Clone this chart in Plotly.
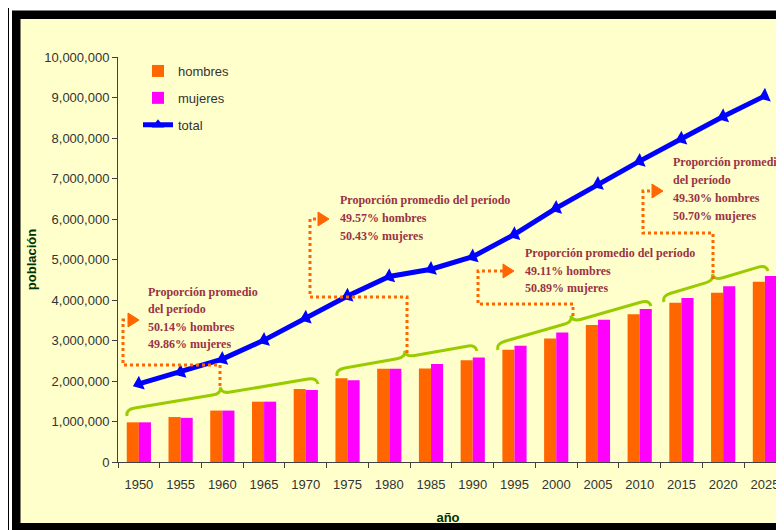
import math
import plotly.graph_objects as go

# ---------------- data ----------------
years = [1950, 1955, 1960, 1965, 1970, 1975, 1980, 1985, 1990, 1995,
         2000, 2005, 2010, 2015, 2020, 2025]
hombres = [980000, 1110000, 1270000, 1490000, 1800000, 2070000, 2300000, 2310000,
           2510000, 2770000, 3050000, 3380000, 3650000, 3930000, 4180000, 4450000]
mujeres = [980000, 1090000, 1270000, 1490000, 1780000, 2020000, 2300000, 2420000,
           2580000, 2870000, 3200000, 3510000, 3780000, 4050000, 4340000, 4590000]
total = [1930000, 2220000, 2540000, 3010000, 3560000, 4100000, 4580000, 4760000,
         5070000, 5620000, 6270000, 6860000, 7430000, 7980000, 8530000, 9040000]
series_names = ["hombres", "mujeres", "total"]
period_notes = [
    ["Proporción promedio", "del período", "50.14% hombres", "49.86% mujeres"],
    ["Proporción promedio del período", "49.57% hombres", "50.43% mujeres"],
    ["Proporción promedio del período", "49.11% hombres", "50.89% mujeres"],
    ["Proporción promedio", "del período", "49.30% hombres", "50.70% mujeres"],
]

# ---------------- geometry (screen pixels; page has an 8px body margin) ----------------
OFF = 8
W, H = 784 - OFF, 530 - OFF
PL, PT, PR, PB = 118, 57, 778, 462          # plot area in screen pixels
ML, MT = PL - OFF, PT - OFF
MR, MB = (W + OFF) - PR, (H + OFF) - PB
PW, PH = PR - PL, PB - PT
X0, XPX = 1947.5, 8.347
X1 = X0 + PW / XPX
YMAX = 10_000_000

def X(px):
    return X0 + (px - PL) / XPX

def Y(py):
    return (PB - py) / PH * YMAX

def PX(px):
    return (px - PL) / PW

def PY(py):
    return 1 - (py - PT) / PH

ORANGE = "#FF6600"
MAGENTA = "#FF00FF"
BLUE = "#0000FF"
YELLOW = "#FFFFCC"
GREEN = "#99CC00"
TEXTRED = "#993344"
AXC = "#333333"

fig = go.Figure()
fig.add_trace(go.Bar(x=years, y=hombres, name=series_names[0], marker_color=ORANGE,
                     marker_line_width=0, legendgroup="a"))
fig.add_trace(go.Bar(x=years, y=mujeres, name=series_names[1], marker_color=MAGENTA,
                     marker_line_width=0, legendgroup="b"))
fig.add_trace(go.Scatter(x=years, y=total, name=series_names[2], mode="lines+markers",
                         line=dict(color=BLUE, width=5),
                         marker=dict(symbol="triangle-up", size=13, color=BLUE, angle=-113),
                         showlegend=False, legendgroup="c"))
# legend proxy for total (upright triangle as in the original legend)
fig.add_trace(go.Scatter(x=[None], y=[None], name=series_names[2], mode="lines+markers",
                         line=dict(color=BLUE, width=5),
                         marker=dict(symbol="triangle-up", size=11, color=BLUE),
                         legendgroup="c"))

shapes = []
# frame
shapes.append(dict(type="rect", xref="paper", yref="paper", layer="below",
                   x0=PX(8), y0=PY(7), x1=PX(820), y1=PY(560),
                   line=dict(color="black", width=2), fillcolor="rgba(0,0,0,0)"))
shapes.append(dict(type="rect", xref="paper", yref="paper", layer="below",
                   x0=PX(12), y0=PY(10.5), x1=PX(820), y1=PY(560),
                   line=dict(width=0), fillcolor="black"))
shapes.append(dict(type="rect", xref="paper", yref="paper", layer="below",
                   x0=PX(20.5), y0=PY(19), x1=PX(778), y1=PY(523),
                   line=dict(width=0), fillcolor=YELLOW))

# curly braces (pixel endpoints, converted to data coords)
def brace(L, R, h=13, q=9):
    lx, ly = L
    rx, ry = R
    dx, dy = rx - lx, ry - ly
    ln = math.hypot(dx, dy)
    ux, uy = dx / ln, dy / ln
    nx, ny = uy, -ux
    if ny > 0:
        nx, ny = -nx, -ny

    def P(t, s):
        px = lx + ux * t + nx * s
        py = ly + uy * t + ny * s
        return f"{X(px):.4f},{Y(py):.1f}"
    m = ln / 2
    d = (f"M{P(0,0)} Q{P(0,h/2)} {P(q,h/2)} L{P(m-q,h/2)} Q{P(m,h/2)} {P(m,h)} "
         f"Q{P(m,h/2)} {P(m+q,h/2)} L{P(ln-q,h/2)} Q{P(ln,h/2)} {P(ln,0)}")
    return dict(type="path", xref="x", yref="y", path=d,
                line=dict(color=GREEN, width=3), layer="above")

for L, R in [((127, 416), (318, 384)), ((337, 376), (477, 351)),
             ((498, 350), (651, 306)), ((664, 302), (768, 271))]:
    shapes.append(brace(L, R))

# dotted elbow connectors with arrow heads
connectors = [
    [(220, 386), (220, 365), (123, 365), (123, 320), (128, 320)],
    [(407, 353), (407, 297), (310, 297), (310, 219), (318, 219)],
    [(573, 316), (573, 304), (478, 304), (478, 271), (503, 271)],
    [(713, 279), (713, 233), (643, 233), (643, 191), (652, 191)],
]
for pts in connectors:
    d = "M" + " L".join(f"{X(a):.4f},{Y(b):.1f}" for a, b in pts)
    shapes.append(dict(type="path", xref="x", yref="y", path=d,
                       line=dict(color=ORANGE, width=3, dash="dot"), layer="above"))
    ax, ay = pts[-1]
    tri = (f"M{X(ax):.4f},{Y(ay-7):.1f} L{X(ax+11):.4f},{Y(ay):.1f} "
           f"L{X(ax):.4f},{Y(ay+7):.1f} Z")
    shapes.append(dict(type="path", xref="x", yref="y", path=tri,
                       fillcolor=ORANGE, line=dict(color=ORANGE, width=1), layer="above"))

# annotation text blocks (left px, first-line centre px, line spacing px)
note_pos = [(146, 292, 17.4), (338, 200, 18), (523, 253, 17.5), (671, 162, 18)]
annotations = []
for lines, (lx, cy, sp) in zip(period_notes, note_pos):
    for i, t in enumerate(lines):
        annotations.append(dict(x=X(lx), y=Y(cy + i * sp), xref="x", yref="y",
                                text=t, showarrow=False, xanchor="left", yanchor="middle",
                                font=dict(family="Liberation Serif", size=12,
                                          color=TEXTRED, weight="bold")))

fig.update_layout(
    width=W, height=H,
    margin=dict(l=ML, r=MR, t=MT, b=MB, autoexpand=False),
    paper_bgcolor="white", plot_bgcolor="rgba(0,0,0,0)",
    barmode="group", bargap=0.42, bargroupgap=0,
    font=dict(family="Liberation Sans", size=13, color=AXC),
    shapes=shapes, annotations=annotations,
    legend=dict(x=PX(138), y=PY(56), xanchor="left", yanchor="top",
                bgcolor="rgba(0,0,0,0)", traceorder="grouped", tracegroupgap=7,
                font=dict(family="Liberation Sans", size=13, color=AXC)),
    xaxis=dict(range=[X0, X1], tickmode="array", tickvals=years,
               ticktext=[str(y) for y in years], ticks="", ticklabelstandoff=10,
               showline=True, linecolor="#404040", linewidth=1, showgrid=False,
               zeroline=False,
               minor=dict(tick0=X0, dtick=5, ticks="outside", ticklen=5,
                          tickcolor="#404040", showgrid=False),
               tickfont=dict(family="Liberation Sans", size=13, color=AXC),
               title=dict(text="año", standoff=22,
                          font=dict(family="Liberation Sans", size=13,
                                    color="#003300", weight="bold"))),
    yaxis=dict(range=[0, YMAX], dtick=1_000_000, tickformat=",d",
               ticks="outside", ticklen=5, tickcolor="#404040",
               showline=True, linecolor="#404040", linewidth=1, showgrid=False,
               zeroline=False,
               tickfont=dict(family="Liberation Sans", size=13, color=AXC),
               title=dict(text="población", standoff=4,
                          font=dict(family="Liberation Sans", size=13,
                                    color="#003300", weight="bold"))),
)

fig.write_html("out.html", config={"displayModeBar": False})
